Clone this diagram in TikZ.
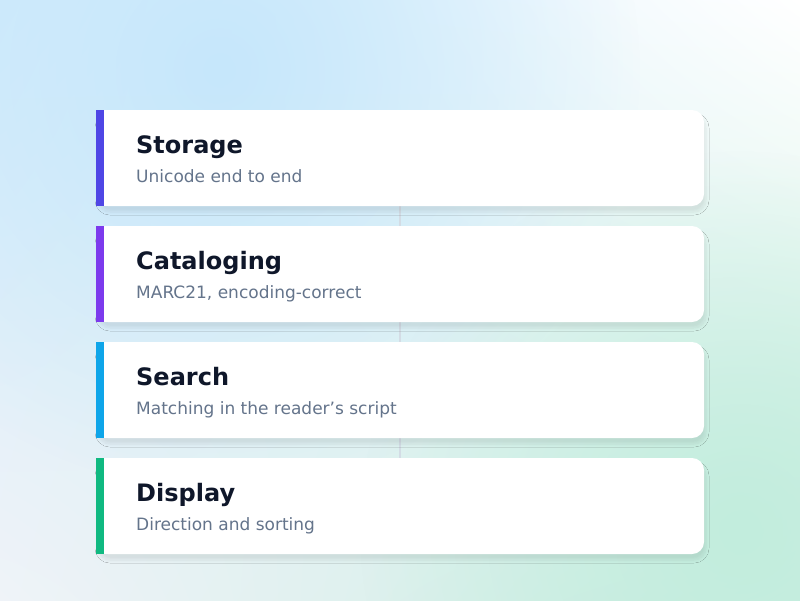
\documentclass[tikz,border=0pt]{standalone}
\usepackage{fontspec}
\setmainfont{DejaVu Sans}
\usetikzlibrary{fadings,shadings,shadows.blur}

\definecolor{bgtl}{HTML}{D2ECFB}
\definecolor{bgbl}{HTML}{EFF3F8}
\definecolor{bgbr}{HTML}{CBEEE2}
\definecolor{bgblue}{HTML}{C6E7FB}
\definecolor{bggreen}{HTML}{C2EDDD}
\definecolor{titlecol}{HTML}{0F172A}
\definecolor{subcol}{HTML}{64748B}
\definecolor{linkcol}{HTML}{D3DCE5}
\definecolor{indigo}{HTML}{4F46E5}
\definecolor{violet}{HTML}{7C3AED}
\definecolor{sky}{HTML}{0EA5E9}
\definecolor{emerald}{HTML}{10B981}

\tikzfading[name=blobfade, inner color=transparent!0, outer color=transparent!100]

\tikzset{
  card/.style={rectangle, fill=white, rounded corners=12pt,
    minimum width=608pt, minimum height=96pt, inner sep=0pt,
    blur shadow={shadow xshift=2pt, shadow yshift=-6pt,
      shadow blur steps=6, shadow opacity=8, shadow blur radius=3pt}},
  bar/.style={rectangle, inner sep=0pt, minimum width=8pt, minimum height=96pt},
  title/.style={anchor=base west, inner sep=0pt, text=titlecol,
    font=\fontsize{24}{28}\selectfont\bfseries},
  subtitle/.style={anchor=base west, inner sep=0pt, text=subcol,
    font=\fontsize{17}{20}\selectfont},
  link/.style={draw=linkcol, line width=2pt}
}

\begin{document}
\begin{tikzpicture}[x=1pt, y=-1pt]
  \useasboundingbox (0,0) rectangle (800,600);
  % background
  \shade[upper left=bgtl, upper right=white, lower left=bgbl, lower right=bgbr]
    (0,0) rectangle (800,600);
  \fill[bgblue, path fading=blobfade] (220,70) circle (420);
  \fill[bggreen, path fading=blobfade] (740,530) circle (380);

  % links
  \coordinate (l1) at (400,206);
  \coordinate (l2) at (400,226);
  \coordinate (l3) at (400,322);
  \coordinate (l4) at (400,342);
  \coordinate (l5) at (400,438);
  \coordinate (l6) at (400,458);
  \draw[link] (l1) -- (l2);
  \draw[link] (l3) -- (l4);
  \draw[link] (l5) -- (l6);

  % cards
  \node[card] (storage) at (400,158) {};
  \node[card] (cataloging) at (400,274) {};
  \node[card] (search) at (400,390) {};
  \node[card] (display) at (400,506) {};
  \fill[white] (storage.north west) rectangle ++(24,96);
  \fill[white] (cataloging.north west) rectangle ++(24,96);
  \fill[white] (search.north west) rectangle ++(24,96);
  \fill[white] (display.north west) rectangle ++(24,96);

  \node[bar, fill=indigo, anchor=north west] (storagebar) at (storage.north west) {};
  \node[bar, fill=violet, anchor=north west] (catalogingbar) at (cataloging.north west) {};
  \node[bar, fill=sky, anchor=north west] (searchbar) at (search.north west) {};
  \node[bar, fill=emerald, anchor=north west] (displaybar) at (display.north west) {};

  \node[title] (storagetitle) at (136,153) {Storage};
  \node[subtitle] (storagesub) at (136,182) {Unicode end to end};
  \node[title] (catalogingtitle) at (136,269) {Cataloging};
  \node[subtitle] (catalogingsub) at (136,298) {MARC21, encoding-correct};
  \node[title] (searchtitle) at (136,385) {Search};
  \node[subtitle] (searchsub) at (136,414) {Matching in the reader’s script};
  \node[title] (displaytitle) at (136,501) {Display};
  \node[subtitle] (displaysub) at (136,530) {Direction and sorting};
\end{tikzpicture}
\end{document}
